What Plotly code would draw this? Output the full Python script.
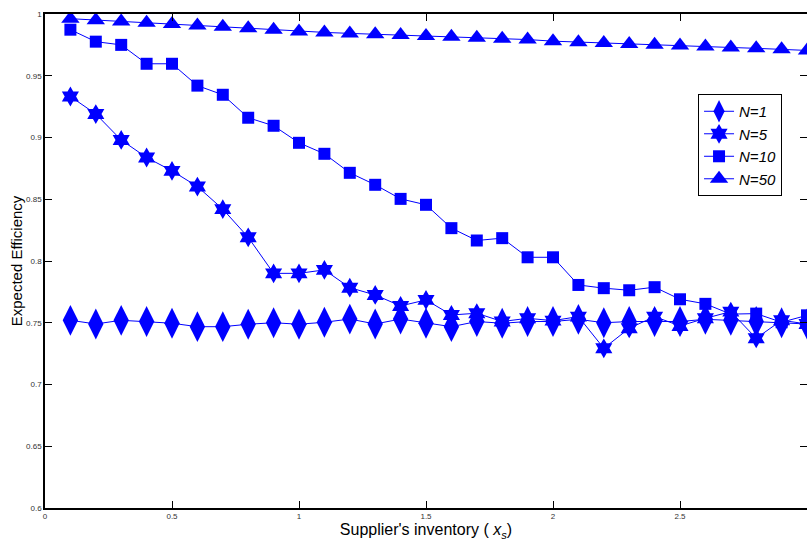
import plotly.graph_objects as go

# Supplier's inventory levels
inventory = [0.1, 0.2, 0.3, 0.4, 0.5, 0.6, 0.7, 0.8, 0.9, 1.0,
             1.1, 1.2, 1.3, 1.4, 1.5, 1.6, 1.7, 1.8, 1.9, 2.0,
             2.1, 2.2, 2.3, 2.4, 2.5, 2.6, 2.7, 2.8, 2.9, 3.0]

# Expected efficiency for each number of retailers N
eff_n1 = [0.752, 0.749, 0.752, 0.751, 0.7496, 0.7468, 0.7468, 0.7488, 0.750, 0.7488,
          0.7504, 0.753, 0.749, 0.753, 0.7496, 0.7468, 0.751, 0.7496, 0.751, 0.751,
          0.7528, 0.750, 0.751, 0.751, 0.751, 0.7528, 0.752, 0.751, 0.750, 0.749]
eff_n5 = [0.9332, 0.919, 0.898, 0.8838, 0.873, 0.8603, 0.842, 0.8192, 0.790, 0.790,
          0.7928, 0.7784, 0.7725, 0.7636, 0.7685, 0.7563, 0.7577, 0.751, 0.7536, 0.7517,
          0.755, 0.7293, 0.7455, 0.755, 0.7474, 0.7536, 0.759, 0.7374, 0.752, 0.749]
eff_n10 = [0.9873, 0.9776, 0.975, 0.9597, 0.9597, 0.942, 0.9346, 0.916, 0.9095, 0.8957,
           0.8868, 0.8714, 0.8617, 0.8503, 0.8455, 0.8266, 0.8166, 0.8185, 0.803, 0.803,
           0.7806, 0.778, 0.7763, 0.7788, 0.769, 0.7653, 0.757, 0.7574, 0.7504, 0.756]
eff_n50 = [0.9962, 0.995, 0.994, 0.993, 0.992, 0.9907, 0.9896, 0.9885, 0.9873, 0.9858,
           0.9851, 0.9843, 0.9836, 0.9829, 0.9822, 0.9815, 0.9808, 0.9800, 0.9793, 0.9780,
           0.9772, 0.9765, 0.9758, 0.9751, 0.9744, 0.9737, 0.9729, 0.9722, 0.9714, 0.9705]

series = [
    ("N=1", eff_n1, "diamond-tall", 22),
    ("N=5", eff_n5, "hexagram", 15),
    ("N=10", eff_n10, "square", 12),
    ("N=50", eff_n50, "triangle-up", 16),
]

BLUE = "rgb(0,0,255)"
FONT = "Liberation Sans, Arial, Helvetica, sans-serif"

fig = go.Figure()
for name, vals, sym, size in series:
    fig.add_trace(go.Scatter(
        x=inventory, y=vals, mode="lines+markers",
        name="<i>%s</i>" % name,
        line=dict(color=BLUE, width=1),
        marker=dict(symbol=sym, size=size, color=BLUE,
                    line=dict(color=BLUE, width=0)),
    ))

# invisible trace that carries the mirrored right-hand ticks
fig.add_trace(go.Scatter(x=[0.5], y=[0.8], yaxis="y2", mode="markers",
                         marker=dict(opacity=0), showlegend=False,
                         hoverinfo="skip"))

y_ticks = [0.6, 0.65, 0.7, 0.75, 0.8, 0.85, 0.9, 0.95, 1.0]
y_labels = ["0.6", "0.65", "0.7", "0.75", "0.8", "0.85", "0.9", "0.95", "1"]
x_ticks = [0, 0.5, 1, 1.5, 2, 2.5, 3]
x_labels = ["0", "0.5", "1", "1.5", "2", "2.5", "3"]

fig.update_layout(
    width=807, height=541,
    margin=dict(l=45, r=0, t=14, b=33),
    paper_bgcolor="white", plot_bgcolor="white",
    font=dict(family=FONT, color="#222"),
    showlegend=True,
    legend=dict(
        x=0.857, y=0.838, xanchor="left", yanchor="top",
        bgcolor="white", bordercolor="black", borderwidth=1,
        font=dict(family=FONT, size=15, color="black"),
        itemwidth=30, tracegroupgap=0,
    ),
    xaxis=dict(
        range=[0, 3.0], tickvals=x_ticks, ticktext=x_labels,
        ticks="inside", ticklen=7, tickwidth=1, tickcolor="black",
        showline=True, linecolor="black", linewidth=1.5, mirror="ticks",
        showgrid=False, zeroline=False,
        tickfont=dict(family=FONT, size=8, color="#333"),
        title=dict(text="Supplier's inventory ( <i>x</i><sub><i>s</i></sub>)",
                   font=dict(family=FONT, size=16, color="black"), standoff=2),
    ),
    yaxis=dict(
        range=[0.6, 1.0], tickvals=y_ticks, ticktext=y_labels,
        ticks="inside", ticklen=7, tickwidth=1, tickcolor="black",
        showline=True, linecolor="black", linewidth=1.5, mirror=False,
        showgrid=False, zeroline=False,
        tickfont=dict(family=FONT, size=8, color="#333"),
        title=dict(text="Expected Efficiency",
                   font=dict(family=FONT, size=15, color="black"), standoff=0),
    ),
    yaxis2=dict(
        range=[0.6, 1.0], tickvals=y_ticks, overlaying="y", side="right",
        ticks="inside", ticklen=7, tickwidth=1, tickcolor="black",
        showline=False, showgrid=False, zeroline=False, showticklabels=False,
    ),
)

fig.write_html("out.html")
